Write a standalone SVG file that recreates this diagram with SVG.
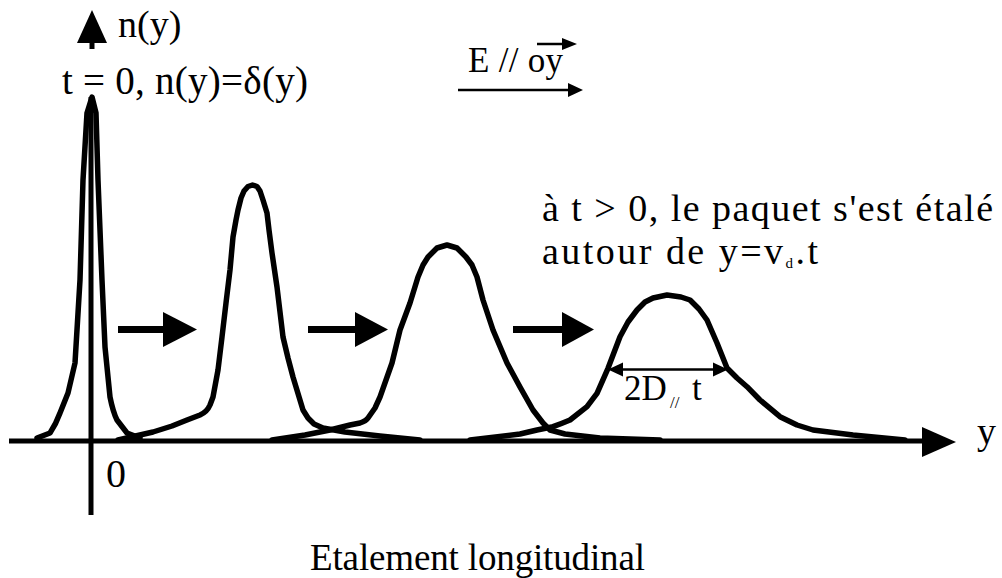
<svg xmlns="http://www.w3.org/2000/svg" width="1002" height="578" viewBox="0 0 1002 578">
<style>
  text { font-family: 'Liberation Serif', 'Times New Roman', 'DejaVu Serif', serif; fill: #000; }
  .curve { fill: none; stroke: #000; stroke-width: 5.5; stroke-linejoin: round; stroke-linecap: round; }
  .axis { fill: none; stroke: #000; stroke-width: 5; }
  .thin { fill: none; stroke: #000; stroke-width: 2.5; }
  .shaft { fill: none; stroke: #000; stroke-width: 7; }
  .head { fill: #000; stroke: none; }
</style>
<rect width="1002" height="578" fill="#fff"/>

<g id="axes">
  <line class="axis" x1="9" y1="441" x2="925" y2="441"/>
  <polygon class="head" points="922,427 956,442 922,457"/>
  <line class="axis" x1="91" y1="97" x2="91" y2="515"/>
  <line class="axis" x1="92" y1="38" x2="92" y2="49"/>
  <polygon class="head" points="92,10 107,43 77,43"/>
</g>

<g id="peaks">
  <path id="peak0" class="curve" d="M37,438 L50,433 Q56,424 60,413 L68,393 L75,363 L80,280 L83,180 L87,113 L92,97 L96,113 L98,180 L102,280 L105,347 L110,397 Q113,412 117,420 L127,433 L140,438"/>
  <path id="peak1" class="curve" d="M118,440 L153,432 L172,426 L187,420 L200,415 Q207,412 210,405 L213,397 L218,370 L222,337 L226,303 L230,270 L233,237 L236,220 L238,210 L241,198 L244,191 L248,186.5 L252.5,185 L257,186.5 L260,191 L263,200 L267,213 L269,230 L272,253 L277,287 L283,337 L288,358 L293,377 L303,410 L308,418 L314,424 L323,428 L345,432 L380,436 L420,440"/>
  <path id="peak2" class="curve" d="M272,440 L305,435 L330,430 L350,425 L360,423 Q366,421 368,418 L375,408 L380,397 L386,380 L392,363 L400,330 L410,303 L418,277 L423,265 L428,257 L437,248 L447,245 L457,248 L466,257 L472,265 L477,277 L483,300 L493,330 L507,363 L520,387 L533,410 L543,423 L550,430 L565,434 L600,438 L660,440"/>
  <path id="peak3" class="curve" d="M470,440 L520,434 L537,430 L553,426.7 Q563,423 570,420 L587,406.7 L597,393.3 L608,368.3 L620,336.7 L628,322 L637,310 L645,302 L653,298 L667,295 L681,297 L690,300 L699,309 L707,320 L717,343 L727,368 L737,378 L747,386.7 L760,400 L780,416.7 L797,425 L813,430 L853,435 L905,440"/>
</g>

<g id="drift-arrows">
  <line class="shaft" x1="118" y1="329.5" x2="166" y2="329.5"/>
  <polygon class="head" points="163,312 197,329.5 163,347"/>
  <line class="shaft" x1="308" y1="329.5" x2="357" y2="329.5"/>
  <polygon class="head" points="355,312 388,329.5 355,347"/>
  <line class="shaft" x1="513" y1="329.5" x2="564" y2="329.5"/>
  <polygon class="head" points="562,312 594,329.5 562,347"/>
</g>

<g id="width-arrow">
  <line class="thin" x1="620" y1="369.5" x2="715" y2="369.5"/>
  <polygon class="head" points="608,369.5 623,362.5 623,376.5"/>
  <polygon class="head" points="728,369.5 713,362.5 713,376.5"/>
  <text x="624" y="400" font-size="35">2D</text>
  <text x="670" y="408" font-size="17">//</text>
  <text x="692" y="400" font-size="35">t</text>
</g>

<g id="field">
  <text x="468" y="72" font-size="35" textLength="95">E // oy</text>
  <line class="thin" x1="537" y1="44" x2="564" y2="44" stroke-width="2"/>
  <polygon class="head" points="562,38 577,44 562,50"/>
  <line class="thin" x1="458" y1="90" x2="570" y2="90"/>
  <polygon class="head" points="568,83 583,90 568,97"/>
</g>

<g id="labels">
  <text x="118" y="37" font-size="38">n(y)</text>
  <text x="62" y="94" font-size="39" textLength="246">t = 0, n(y)=δ(y)</text>
  <text x="106" y="487" font-size="40">0</text>
  <text x="977" y="444" font-size="38">y</text>
  <text x="542" y="221" font-size="38" textLength="451">à t &gt; 0, le paquet s'est étalé</text>
  <text x="542" y="264" font-size="38" textLength="276">autour de y=v<tspan font-size="15" dy="4">d</tspan><tspan dy="-4">.t</tspan></text>
  <text x="310" y="570" font-size="37" textLength="335">Etalement longitudinal</text>
</g>
</svg>
